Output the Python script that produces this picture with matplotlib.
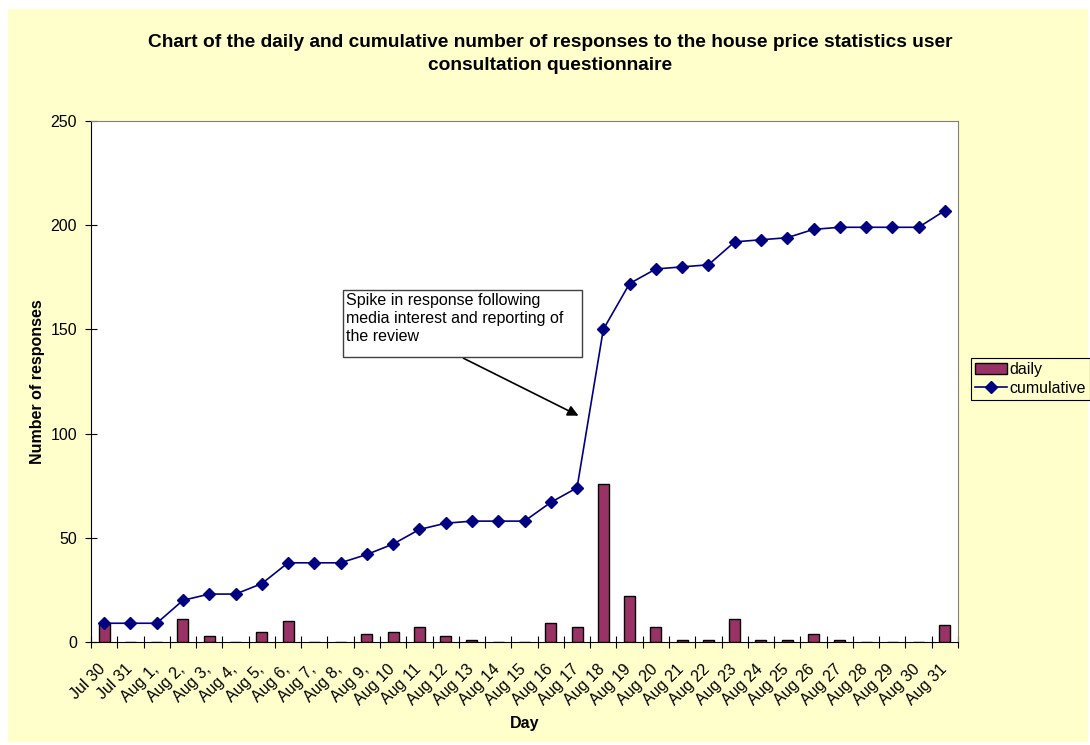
import matplotlib.pyplot as plt
import matplotlib.transforms as mtransforms
from matplotlib.patches import Rectangle
import numpy as np

plt.rcParams['font.family'] = ['Liberation Sans', 'DejaVu Sans']

days = ['Jul 30', 'Jul 31'] + ['Aug %d,' % d for d in range(1, 10)] + ['Aug %d' % d for d in range(10, 32)]
daily = [9, 0, 0, 11, 3, 0, 5, 10, 0, 0, 4, 5, 7, 3, 1, 0, 0, 9, 7, 76, 22, 7, 1, 1, 11, 1, 1, 4, 1, 0, 0, 0, 8]
cumulative = [9, 9, 9, 20, 23, 23, 28, 38, 38, 38, 42, 47, 54, 57, 58, 58, 58, 67, 74, 150,
              172, 179, 180, 181, 192, 193, 194, 198, 199, 199, 199, 199, 207]

W, H = 1090, 745
fig = plt.figure(figsize=(W / 100, H / 100), dpi=100)
fig.patch.set_facecolor('white')
fig.patches.append(Rectangle((8 / W, 3 / H), 1080 / W, 733 / H, transform=fig.transFigure,
                             facecolor='#FFFFCC', edgecolor='none', zorder=-10))

ax = fig.add_axes([91 / W, 1 - 642 / H, 867 / W, 521 / H])
ax.set_facecolor('white')

x = np.arange(len(days))
bars = ax.bar(x, daily, width=0.42, color='#993366', edgecolor='black', linewidth=1, label='daily', zorder=2)
line, = ax.plot(x, cumulative, color='#000080', marker='D', markersize=6, linewidth=1.2,
                label='cumulative', zorder=3)

ax.set_xlim(-0.5, len(days) - 0.5)
ax.set_ylim(0, 250)
ax.set_yticks(np.arange(0, 251, 50))
ax.tick_params(axis='y', direction='inout', length=8, labelsize=11.5, pad=6)

ax.set_xticks(np.arange(-0.5, len(days)), labels=[])
ax.set_xticks(x, labels=days, minor=True)
ax.tick_params(axis='x', which='major', direction='inout', length=8)
ax.tick_params(axis='x', which='minor', length=0, labelsize=11.5, pad=14)
offset = mtransforms.ScaledTranslation(-6 / 100, 0, fig.dpi_scale_trans)
for lbl in ax.get_xticklabels(minor=True):
    lbl.set_rotation(45)
    lbl.set_ha('right')
    lbl.set_va('top')
    lbl.set_rotation_mode('anchor')
    lbl.set_transform(lbl.get_transform() + offset)

for side in ['left', 'bottom']:
    ax.spines[side].set_color('black')
for side in ['top', 'right']:
    ax.spines[side].set_color('#808080')

ax.set_xlabel('Day', fontsize=11.5, fontweight='bold', labelpad=6)
ax.set_ylabel('Number of responses', fontsize=11.5, fontweight='bold', labelpad=4)

fig.text(550 / W, 1 - 54 / H,
         'Chart of the daily and cumulative number of responses to the house price statistics user\n'
         'consultation questionnaire',
         ha='center', va='center', fontsize=13.8, fontweight='bold', linespacing=1.4)

# annotation box and arrow
fig.patches.append(Rectangle((343 / W, 1 - 357 / H), 239 / W, 67 / H, transform=fig.transFigure,
                             facecolor='white', edgecolor='#404040', linewidth=1, zorder=5))
fig.text(346 / W, 1 - 293 / H,
         'Spike in response following\nmedia interest and reporting of\nthe review',
         ha='left', va='top', fontsize=11.5, linespacing=1.25, zorder=6)
ax.annotate('', xy=(18.15, 108), xycoords='data',
            xytext=(461 / W, 1 - 357 / H), textcoords='figure fraction',
            arrowprops=dict(arrowstyle='-|>', color='black', lw=1.2, mutation_scale=16))

leg = ax.legend([bars, line], ['daily', 'cumulative'], loc='upper left',
                bbox_to_anchor=(971 / W, 1 - 358 / H), bbox_transform=fig.transFigure,
                frameon=True, fancybox=False, fontsize=11.5, handlelength=2.0, borderpad=0.25,
                labelspacing=0.25, handletextpad=0.15, borderaxespad=0)
leg.get_frame().set_facecolor('#FFFFCC')
leg.get_frame().set_edgecolor('black')
leg.get_frame().set_alpha(1)
leg.get_frame().set_linewidth(0.8)

fig.savefig('out.png', dpi=100)
